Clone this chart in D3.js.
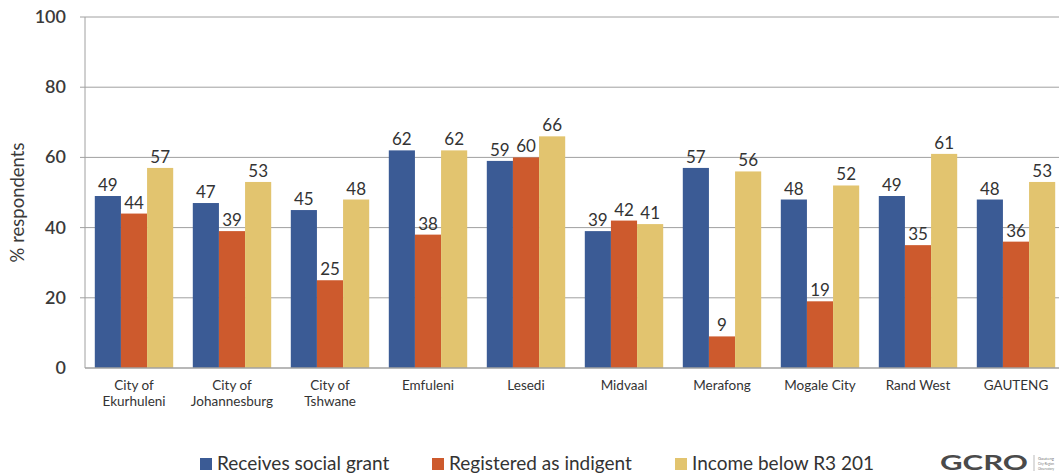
<!DOCTYPE html>
<html><head><meta charset="utf-8">
<script src="https://cdn.jsdelivr.net/npm/d3@7"></script>
<style>body{margin:0;background:#fff;}svg{display:block;font-family:Lato,"Open Sans",sans-serif;}</style>
</head><body><div id="chart"></div>
<script>
const categories = [["City of","Ekurhuleni"],["City of","Johannesburg"],["City of","Tshwane"],["Emfuleni"],["Lesedi"],["Midvaal"],["Merafong"],["Mogale City"],["Rand West"],["GAUTENG"]];
const seriesNames = ["Receives social grant","Registered as indigent","Income below R3 201"];
const socialGrant = [49,47,45,62,59,39,57,48,49,48];
const indigent = [44,39,25,38,60,42,9,19,35,36];
const incomeBelow = [57,53,48,62,66,41,56,52,61,53];
const yTicks = [0,20,40,60,80,100];
const colors = ["#3b5b95","#cd5a2d","#e2c46f"];

const W=1059,H=474;
const m={left:85,right:1065,top:17,bottom:368};
const svg=d3.select("#chart").append("svg").attr("width",W).attr("height",H);
const keys = categories.map((c,i)=>i);
const x=d3.scaleBand().domain(keys).range([m.left,m.right]).paddingInner(0.2).paddingOuter(0.1);
const xs=d3.scaleBand().domain([0,1,2]).range([0,x.bandwidth()]);
const y=d3.scaleLinear().domain([0,100]).range([m.bottom,m.top]);
const series=[socialGrant,indigent,incomeBelow];

// gridlines
svg.append("g").selectAll("line").data(yTicks.filter(t=>t>0)).join("line")
 .attr("x1",m.left-5).attr("x2",W).attr("y1",d=>y(d)).attr("y2",d=>y(d))
 .attr("stroke","#a0a0a0").attr("stroke-width",1);
// y axis labels
svg.append("g").selectAll("text").data(yTicks).join("text")
 .attr("x",66).attr("y",d=>y(d)+6).attr("text-anchor","end")
 .attr("font-size",18).attr("font-weight",600).attr("fill","#3a3a3a").text(d=>d);
svg.append("text").attr("transform","translate(24,"+((m.top+m.bottom)/2+10)+") rotate(-90)")
 .attr("text-anchor","middle").attr("font-size",18.5).attr("fill","#3a3a3a").text("% respondents");

// bars
const g=svg.append("g");
series.forEach((vals,s)=>{
  g.selectAll(".b"+s).data(vals).join("rect")
   .attr("x",(d,i)=>x(i)+xs(s)).attr("width",xs.bandwidth())
   .attr("y",d=>y(d)).attr("height",d=>y(0)-y(d)).attr("fill",colors[s]);
  g.selectAll(".t"+s).data(vals).join("text")
   .attr("x",(d,i)=>x(i)+xs(s)+xs.bandwidth()/2).attr("y",d=>y(d)-5)
   .attr("text-anchor","middle").attr("font-size",17).attr("fill","#333").text(d=>d);
});
// axes lines
svg.append("line").attr("x1",m.left).attr("x2",m.left).attr("y1",m.top).attr("y2",m.bottom).attr("stroke","#a0a0a0");
svg.append("line").attr("x1",m.left).attr("x2",W).attr("y1",m.bottom).attr("y2",m.bottom).attr("stroke","#a0a0a0").attr("stroke-width",1.5);

// category labels
const cl=svg.append("g");
categories.forEach((c,i)=>{
  const t=cl.append("text").attr("x",x(i)+x.bandwidth()/2).attr("y",390).attr("text-anchor","middle")
   .attr("font-size",13.5).attr("fill","#333");
  c.forEach((line,j)=>t.append("tspan").attr("x",x(i)+x.bandwidth()/2).attr("dy",j?16:0).text(line));
});

// legend
const lx=[200,432,675];
seriesNames.forEach((n,s)=>{
  svg.append("rect").attr("x",lx[s]).attr("y",458).attr("width",12).attr("height",12).attr("fill",colors[s]);
  svg.append("text").attr("x",lx[s]+17).attr("y",470).attr("font-size",19).attr("fill","#333").text(n);
});
// logo
svg.append("text").attr("x",940).attr("y",470).attr("font-size",20).attr("font-weight",700)
 .attr("textLength",88).attr("lengthAdjust","spacingAndGlyphs").attr("fill","#4a4a4a").text("GCRO");
svg.append("line").attr("x1",1034).attr("x2",1034).attr("y1",455).attr("y2",471).attr("stroke","#bbb");
["Gauteng","City-Region","Observatory"].forEach((t,i)=>svg.append("text").attr("x",1038).attr("y",460+i*5)
 .attr("font-size",4).attr("textLength",16).attr("lengthAdjust","spacingAndGlyphs").attr("fill","#777").text(t));
</script></body></html>
